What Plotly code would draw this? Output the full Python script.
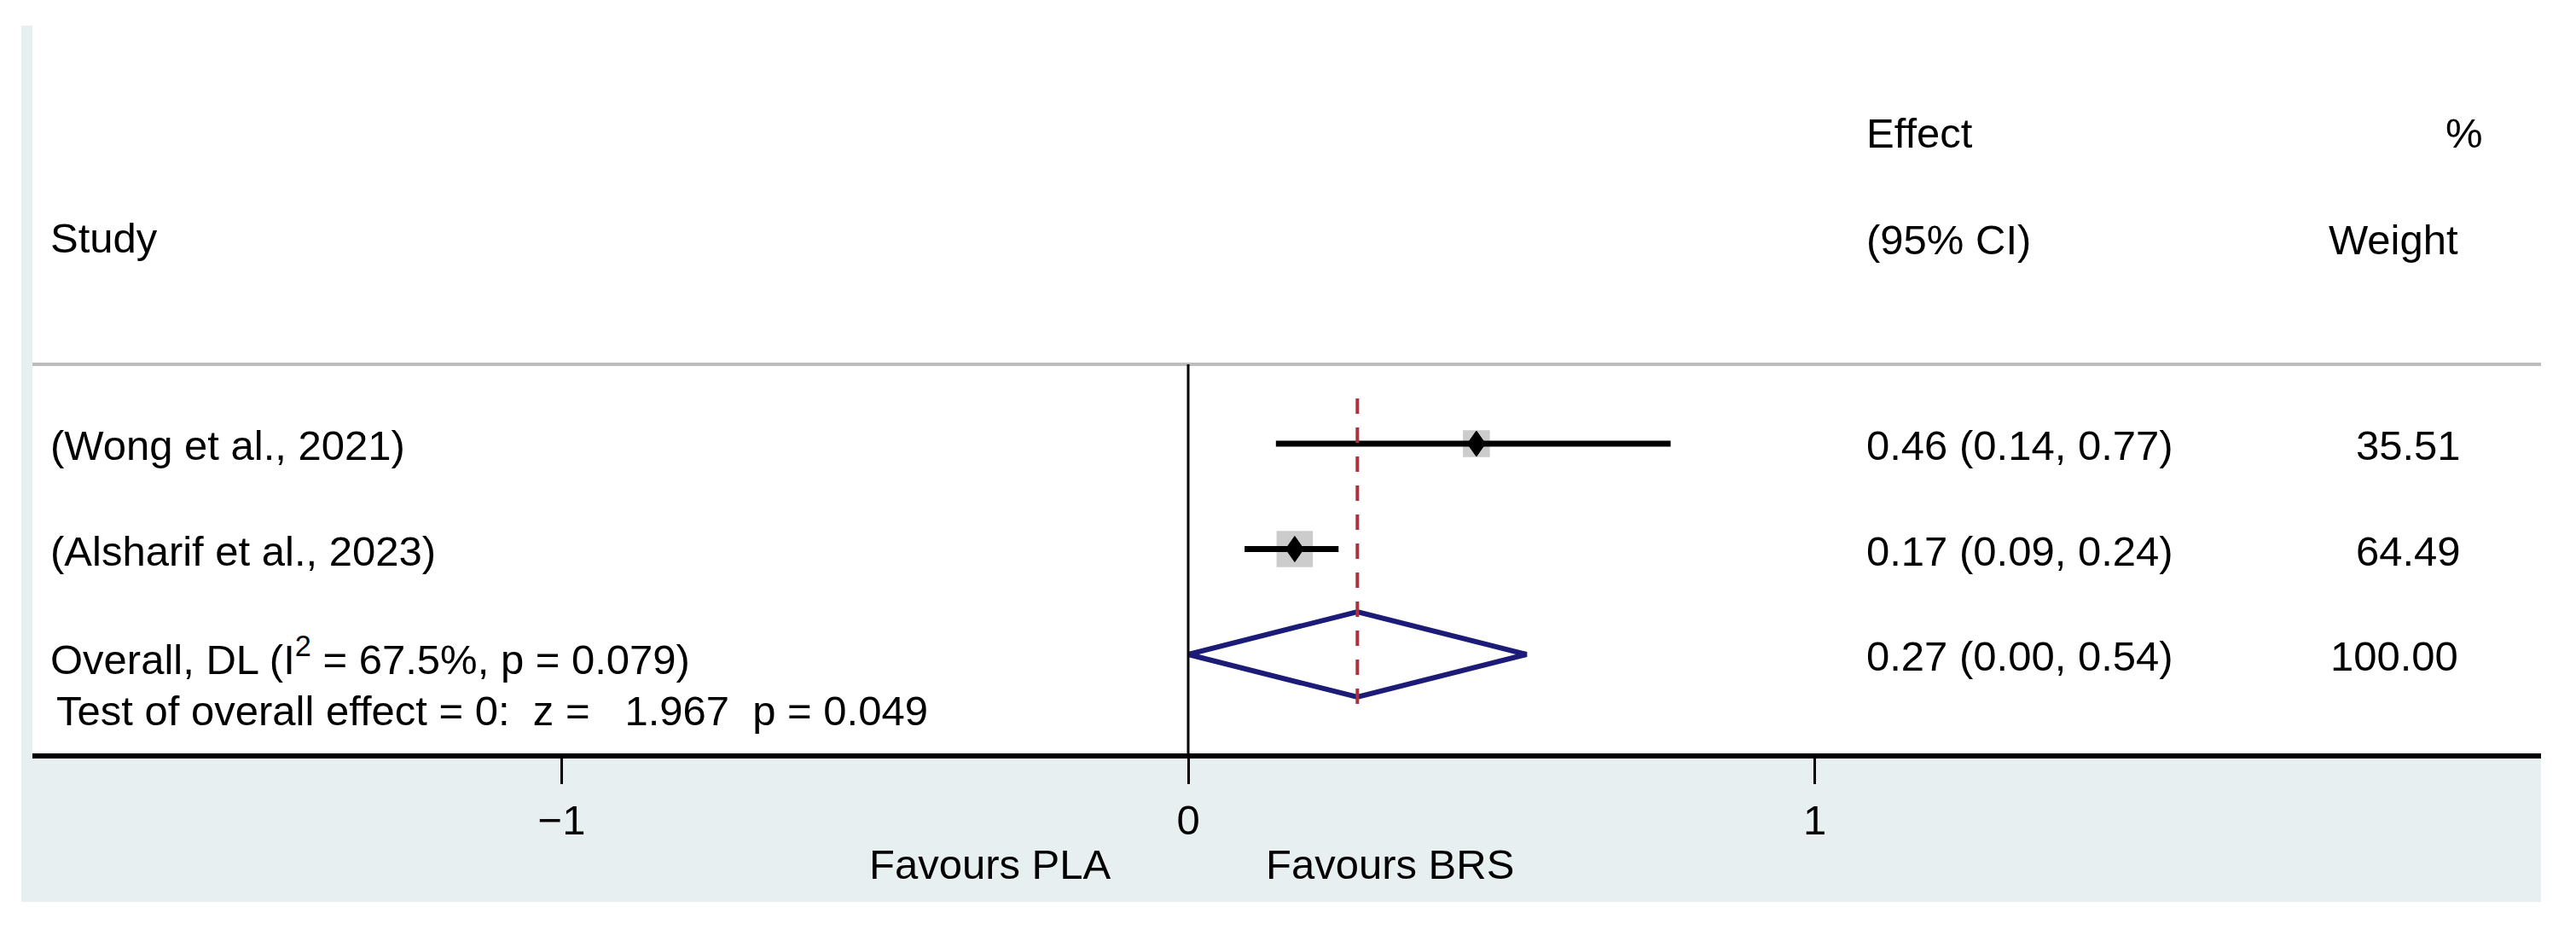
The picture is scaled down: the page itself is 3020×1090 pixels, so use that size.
import plotly.graph_objects as go
import math

# ---------------- data ----------------
studies = ["(Wong et al., 2021)", "(Alsharif et al., 2023)"]
effect = [0.46, 0.17]
ci_low = [0.14, 0.09]
ci_high = [0.77, 0.24]
weights = [35.51, 64.49]

overall_label = "Overall, DL (I<sup>2</sup> = 67.5%, p = 0.079)"
overall_effect = 0.27
overall_low = 0.00
overall_high = 0.54
overall_weight = 100.00
test_text = "Test of overall effect = 0:  z =   1.967  p = 0.049"

tick_vals = [-1, 0, 1]
tick_text = ["\u22121", "0", "1"]
favours_left = "Favours PLA"
favours_right = "Favours BRS"

# ---------------- layout geometry ----------------
W, H = 3020, 1090
L, R, T, B = 38, 41, 30, 204
PX0 = 1393.0       # pixel of effect = 0
PPU = 734.5        # pixels per effect unit
ROW_PX0 = 520.0    # pixel centre of first study row
ROW_STEP = 123.5
PLOT_BOTTOM = H - B
PLOT_H = PLOT_BOTTOM - T
PLOT_W = W - R - L

def xpx(px):
    return (px - PX0) / PPU

def ypx(px):
    return (px - ROW_PX0) / ROW_STEP

def paper_y(px):
    return (PLOT_BOTTOM - px) / PLOT_H

def paper_x(px):
    return (px - L) / PLOT_W

FONT = "Liberation Sans, Arial, Helvetica, sans-serif"
FS = 49
nb = lambda s: s.replace(" ", "\u00a0")

fig = go.Figure()

rows = list(range(len(studies)))
overall_row = len(studies)

# weight boxes
box_k = 5.3
fig.add_trace(go.Scatter(
    x=effect, y=rows, mode="markers",
    marker=dict(symbol="square", color="#b7b7b7",
                size=[box_k * math.sqrt(w) for w in weights], line=dict(width=0)),
    hoverinfo="skip", showlegend=False))

# CI lines
cx, cy = [], []
for r, lo, hi in zip(rows, ci_low, ci_high):
    cx += [lo, hi, None]
    cy += [r, r, None]
fig.add_trace(go.Scatter(x=cx, y=cy, mode="lines",
                         line=dict(color="black", width=7),
                         hoverinfo="skip", showlegend=False))

# point estimates (small black diamonds, 21 x 30 px)
pdx = 10.5 / PPU
pdy = 15.0 / ROW_STEP
for r, e in zip(rows, effect):
    fig.add_trace(go.Scatter(
        x=[e - pdx, e, e + pdx, e, e - pdx],
        y=[r, r - pdy, r, r + pdy, r],
        mode="lines", fill="toself", fillcolor="black",
        line=dict(color="black", width=1),
        hoverinfo="skip", showlegend=False))

# overall diamond
hh = 50 / ROW_STEP
fig.add_trace(go.Scatter(
    x=[overall_low, overall_effect, overall_high, overall_effect, overall_low],
    y=[overall_row, overall_row - hh, overall_row, overall_row + hh, overall_row],
    mode="lines", line=dict(color="#1c1c78", width=6),
    hoverinfo="skip", showlegend=False))

shapes = []
# background band + left strip
shapes.append(dict(type="rect", xref="paper", yref="paper",
                   x0=paper_x(25), x1=1, y0=paper_y(1057), y1=1,
                   fillcolor="#e8eff1", line=dict(width=0), layer="below"))
shapes.append(dict(type="rect", xref="paper", yref="paper",
                   x0=0, x1=1, y0=0, y1=1,
                   fillcolor="white", line=dict(width=0), layer="below"))
# header separator
shapes.append(dict(type="line", xref="paper", yref="paper",
                   x0=0, x1=1, y0=paper_y(427), y1=paper_y(427),
                   line=dict(color="#bdbdbd", width=4)))
# no-effect line
shapes.append(dict(type="line", xref="x", yref="paper",
                   x0=0, x1=0, y0=paper_y(427), y1=0,
                   line=dict(color="black", width=3)))
# overall effect dashed line
shapes.append(dict(type="line", xref="x", yref="y",
                   x0=overall_effect, x1=overall_effect,
                   y0=ypx(467), y1=ypx(825),
                   line=dict(color="#a8323e", width=4, dash="18px,16px")))
# axis line
shapes.append(dict(type="line", xref="paper", yref="paper",
                   x0=0, x1=1, y0=0, y1=0,
                   line=dict(color="black", width=6)))

ann = []
def add_text(text, x, y, anchor="left", xref="x", yref="y"):
    ann.append(dict(text=text, x=x, y=y, xref=xref, yref=yref,
                    xanchor=anchor, yanchor="middle", showarrow=False,
                    font=dict(family=FONT, size=FS, color="black")))

# headers
add_text("Study", xpx(57), ypx(279))
add_text("Effect", xpx(2186), ypx(156))
add_text("(95% CI)", xpx(2186), ypx(281))
add_text("%", xpx(2913), ypx(156), anchor="right")
add_text("Weight", xpx(2884), ypx(281), anchor="right")

# study rows
for r, s, e, lo, hi, w in zip(rows, studies, effect, ci_low, ci_high, weights):
    add_text(s, xpx(57), ypx(ROW_PX0 + r * ROW_STEP + 2))
    add_text(f"{e:.2f} ({lo:.2f}, {hi:.2f})", xpx(2186), ypx(ROW_PX0 + r * ROW_STEP + 2))
    add_text(f"{w:.2f}", xpx(2887), ypx(ROW_PX0 + r * ROW_STEP + 2), anchor="right")

add_text(overall_label, xpx(57), ypx(ROW_PX0 + overall_row * ROW_STEP + 2))
add_text(f"{overall_effect:.2f} ({overall_low:.2f}, {overall_high:.2f})", xpx(2186),
         ypx(ROW_PX0 + overall_row * ROW_STEP + 2))
add_text(f"{overall_weight:.2f}", xpx(2884), ypx(ROW_PX0 + overall_row * ROW_STEP + 2), anchor="right")
add_text(nb(test_text), xpx(64), ypx(833))

add_text(favours_left, xpx(1305), paper_y(1013), anchor="right", yref="paper")
add_text(favours_right, xpx(1482), paper_y(1013), anchor="left", yref="paper")

fig.update_layout(
    width=W, height=H, autosize=False,
    margin=dict(l=L, r=R, t=T, b=B, pad=0),
    paper_bgcolor="white", plot_bgcolor="white",
    showlegend=False,
    shapes=shapes, annotations=ann,
    font=dict(family=FONT, size=FS, color="black"),
    xaxis=dict(range=[xpx(L), xpx(W - R)], tickvals=tick_vals, ticktext=tick_text,
               ticks="outside", ticklen=32, tickwidth=3, tickcolor="black",
               showgrid=False, zeroline=False, showline=False,
               tickfont=dict(family=FONT, size=FS, color="black"),
               fixedrange=True),
    yaxis=dict(range=[ypx(PLOT_BOTTOM), ypx(T)], visible=False,
               showgrid=False, zeroline=False, fixedrange=True),
)

fig.write_html("out.html",
               config={"displayModeBar": False},
               post_script="document.body.style.margin='0';document.body.style.overflow='hidden';")
